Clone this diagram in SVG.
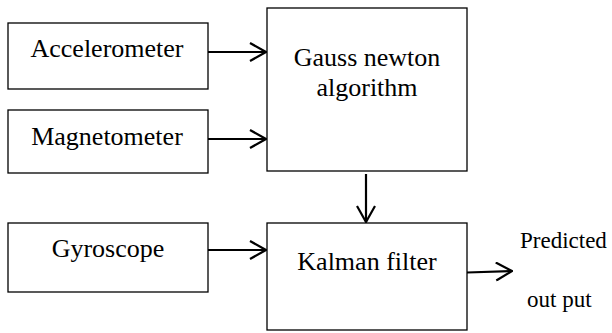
<svg xmlns="http://www.w3.org/2000/svg" width="612" height="333" viewBox="0 0 612 333">
<style>
.box{fill:#fff;stroke:#000;stroke-width:1.3}
.lbl{font-family:"Liberation Serif","Times New Roman",serif;font-size:26px;fill:#000;text-anchor:middle}
.out{font-family:"Liberation Serif","Times New Roman",serif;font-size:23px;fill:#000}
.conn{fill:none;stroke:#000;stroke-width:2.2}
</style>
<defs>
<marker id="arr" markerUnits="userSpaceOnUse" viewBox="0 0 18 20" refX="17" refY="10" markerWidth="18" markerHeight="20" orient="auto">
<path d="M1,1 L17,10 L1,19" fill="none" stroke="#000" stroke-width="2.2"/>
</marker>
</defs>
<rect width="612" height="333" fill="#fff"/>
<g id="accelerometer">
<rect class="box" x="8" y="23" width="200" height="66"/>
<text class="lbl" x="107" y="57">Accelerometer</text>
</g>
<g id="magnetometer">
<rect class="box" x="8" y="110" width="200" height="63"/>
<text class="lbl" x="107" y="145">Magnetometer</text>
</g>
<g id="gyroscope">
<rect class="box" x="8" y="223" width="200" height="69"/>
<text class="lbl" x="108" y="257">Gyroscope</text>
</g>
<g id="gauss">
<rect class="box" x="267" y="8" width="200" height="163"/>
<text class="lbl" x="367" y="66">Gauss newton</text>
<text class="lbl" x="367" y="96">algorithm</text>
</g>
<g id="kalman">
<rect class="box" x="267" y="223" width="200" height="107"/>
<text class="lbl" x="367" y="270">Kalman filter</text>
</g>
<g id="output">
<text class="out" x="520" y="248">Predicted</text>
<text class="out" x="527" y="307">out put</text>
</g>
<g id="connectors">
<line class="conn" x1="208" y1="52" x2="266" y2="52" marker-end="url(#arr)"/>
<line class="conn" x1="208" y1="139" x2="266" y2="139" marker-end="url(#arr)"/>
<line class="conn" x1="208" y1="250" x2="266" y2="250" marker-end="url(#arr)"/>
<line class="conn" x1="366" y1="174" x2="366" y2="222" marker-end="url(#arr)"/>
<line class="conn" x1="467" y1="272.5" x2="512" y2="271" marker-end="url(#arr)"/>
</g>
</svg>
